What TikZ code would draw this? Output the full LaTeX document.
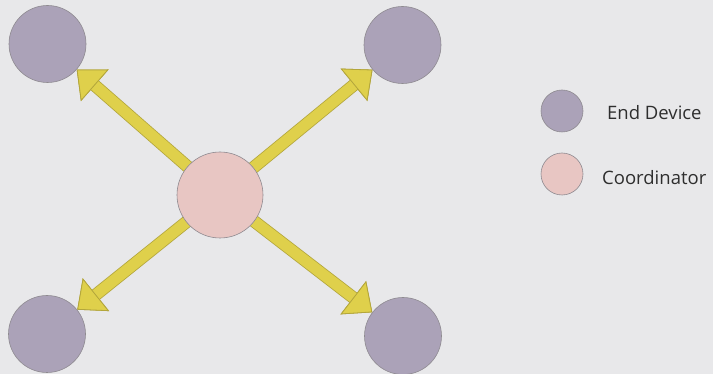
\documentclass[tikz,border=0pt]{standalone}
\usepackage{fontspec}
\setmainfont{Open Sans}
\usetikzlibrary{arrows.meta}
\pgfdeclarelayer{bg}
\pgfdeclarelayer{edges}
\pgfsetlayers{bg,edges,main}
\definecolor{bgcol}{HTML}{E8E8EA}
\definecolor{devcol}{HTML}{ABA2B8}
\definecolor{coordcol}{HTML}{E8C6C3}
\definecolor{arrfill}{HTML}{DFD04B}
\definecolor{arredge}{HTML}{B3A63C}
\definecolor{ringcol}{HTML}{8E8A90}
\definecolor{txtcol}{HTML}{2E2E2E}
\begin{document}
\begin{tikzpicture}[x=1pt,y=-1pt,
  device/.style={circle,draw=ringcol,line width=0.6pt,fill=devcol,minimum size=77pt,inner sep=0pt},
  coordnode/.style={circle,draw=ringcol,line width=0.6pt,fill=coordcol,minimum size=86pt,inner sep=0pt},
  legdev/.style={circle,draw=ringcol,line width=0.6pt,fill=devcol,minimum size=42pt,inner sep=0pt},
  legcoord/.style={circle,draw=ringcol,line width=0.6pt,fill=coordcol,minimum size=42pt,inner sep=0pt},
  legtext/.style={anchor=west,inner sep=0pt,font=\fontsize{18.5}{20}\selectfont,text=txtcol},
  bigarrow/.style={draw=arrfill,line width=11pt,
    -{Triangle[width=42pt,length=24pt,line width=0.8pt,fill=arrfill,color=arredge]},
    preaction={draw=arredge,line width=12.6pt,-{Triangle[width=42pt,length=24pt,line width=0.8pt]}}}
]
\useasboundingbox (0,0) rectangle (713,374);
\begin{pgfonlayer}{bg}
\fill[bgcol] (0,0) rectangle (713,374);
\end{pgfonlayer}
\clip (0,0) rectangle (713,374);
\node[coordnode] (c) at (220,195) {};
\node[device] (tl) at (47.5,44) {};
\node[device] (tr) at (402.5,45) {};
\node[device] (bl) at (47,334) {};
\node[device] (br) at (403,336) {};
\begin{pgfonlayer}{edges}
\draw[bigarrow] (c.center) -- (tl);
\draw[bigarrow] (c.center) -- (tr);
\draw[bigarrow] (c.center) -- (bl);
\draw[bigarrow] (c.center) -- (br);
\end{pgfonlayer}
\node[legdev] (ld) at (562,111) {};
\node[legcoord] (lc) at (562,174) {};
\node[legtext] (ldt) at (607,113) {End Device};
\node[legtext] (lct) at (602,177.5) {Coordinator};
\end{tikzpicture}
\end{document}
